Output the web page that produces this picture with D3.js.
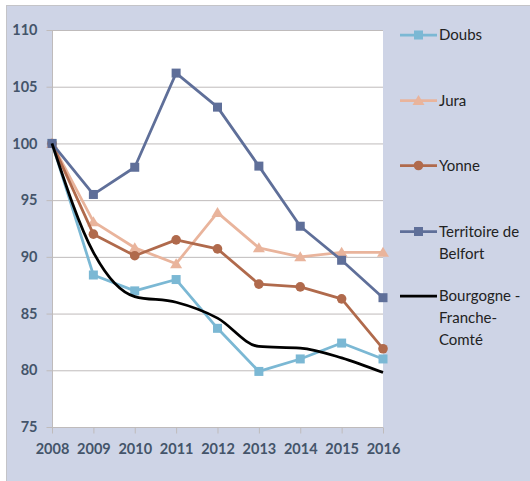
<!DOCTYPE html>
<html><head><meta charset="utf-8">
<script src="https://cdn.jsdelivr.net/npm/d3@7"></script>
<style>html,body{margin:0;padding:0;background:#fff;}svg{display:block;}</style>
</head><body>
<svg id="c" width="530" height="481"></svg>
<script>
const years = [2008, 2009, 2010, 2011, 2012, 2013, 2014, 2015, 2016];
const yTicks = [75, 80, 85, 90, 95, 100, 105, 110];
const doubs = [100, 88.4, 87.0, 88.0, 83.7, 79.9, 81.0, 82.4, 81.0];
const jura = [100, 93.1, 90.8, 89.4, 93.9, 90.8, 90.0, 90.4, 90.4];
const yonne = [100, 92.0, 90.1, 91.5, 90.7, 87.6, 87.35, 86.3, 81.9];
const belfort = [100, 95.5, 97.9, 106.2, 103.2, 98.0, 92.7, 89.7, 86.4];
const bfc = [100, 90.4, 86.5, 86.0, 84.6, 82.1, 81.96, 81.1, 79.8];
const seriesNames = [["Doubs"], ["Jura"], ["Yonne"], ["Territoire de", "Belfort"], ["Bourgogne -", "Franche-", "Comté"]];

const series = [
  {name: seriesNames[0], values: doubs, color: "#7BB8D4", marker: "square"},
  {name: seriesNames[1], values: jura, color: "#E9B49C", marker: "triangle"},
  {name: seriesNames[2], values: yonne, color: "#B06A4C", marker: "circle"},
  {name: seriesNames[3], values: belfort, color: "#5F6F99", marker: "square"},
  {name: seriesNames[4], values: bfc, color: "#000000", marker: null, curve: true}
];

const svg = d3.select("#c");
const font = "Lato, 'Open Sans', sans-serif";
svg.append("rect").attr("x", 0).attr("y", 0).attr("width", 530).attr("height", 481).attr("fill", "#fff");
svg.append("rect").attr("x", 6.5).attr("y", 5.5).attr("width", 530).attr("height", 480)
  .attr("fill", "#CED4E6").attr("stroke", "#C4C4C8").attr("stroke-width", 1);

const L = 52, R = 383, T = 30, B = 427;
const x = d3.scaleLinear().domain([2008, 2016]).range([L, R]);
const y = d3.scaleLinear().domain([75, 110]).range([B, T]);

svg.append("rect").attr("x", L).attr("y", T).attr("width", R - L).attr("height", B - T).attr("fill", "#fff");

// gridlines
svg.append("g").selectAll("line").data(yTicks.filter(d => d !== 75)).join("line")
  .attr("x1", L).attr("x2", R).attr("y1", d => y(d) + 0.5).attr("y2", d => y(d) + 0.5)
  .attr("stroke", "#BFBBBB").attr("stroke-width", 1);

// y axis
const yAxis = svg.append("g").attr("transform", `translate(${L + 0.5},0)`)
  .call(d3.axisLeft(y).tickValues(yTicks).tickSize(6).tickPadding(9));
yAxis.select(".domain").attr("stroke", "#BFBBBB").attr("d", `M0,${T}V${B}`);
yAxis.selectAll(".tick line").attr("stroke", "#BFBBBB");
yAxis.selectAll("text").attr("font-family", font).attr("font-weight", "bold")
  .attr("font-size", "14.5px").attr("fill", "#44546A");

// x axis
const xAxis = svg.append("g").attr("transform", `translate(0,${B + 0.5})`)
  .call(d3.axisBottom(x).tickValues(years).tickFormat(d3.format("d")).tickSize(6).tickPadding(10));
xAxis.select(".domain").attr("stroke", "#BFBBBB").attr("d", `M${L},0H${R}`);
xAxis.selectAll(".tick line").attr("stroke", "#BFBBBB");
xAxis.selectAll("text").attr("font-family", font).attr("font-weight", "bold")
  .attr("font-size", "14.5px").attr("fill", "#44546A");

function drawMarker(g, type, cx, cy, color) {
  if (type === "square") {
    g.append("rect").attr("x", cx - 4.5).attr("y", cy - 4.5).attr("width", 9).attr("height", 9).attr("fill", color);
  } else if (type === "circle") {
    g.append("circle").attr("cx", cx).attr("cy", cy).attr("r", 4.8).attr("fill", color);
  } else if (type === "triangle") {
    g.append("path").attr("d", `M${cx},${cy - 5.5}L${cx + 6},${cy + 4.5}L${cx - 6},${cy + 4.5}Z`).attr("fill", color);
  }
}

series.forEach(s => {
  const g = svg.append("g");
  const line = d3.line().x((d, i) => x(years[i])).y(d => y(d));
  if (s.curve) line.curve(d3.curveMonotoneX);
  g.append("path").attr("d", line(s.values)).attr("fill", "none")
    .attr("stroke", s.color).attr("stroke-width", 2.75).attr("stroke-linejoin", "round");
  if (s.marker) s.values.forEach((v, i) => drawMarker(g, s.marker, x(years[i]), y(v), s.color));
});

// legend
const legendY = [35, 100.5, 165.5, 231.5, 296];
series.forEach((s, k) => {
  const g = svg.append("g");
  const cy = legendY[k];
  g.append("line").attr("x1", 400).attr("x2", 437).attr("y1", cy).attr("y2", cy)
    .attr("stroke", s.color).attr("stroke-width", 2.75);
  if (s.marker) drawMarker(g, s.marker, 418.5, cy, s.color);
  s.name.forEach((t, j) => {
    g.append("text").attr("x", 439).attr("y", cy + j * 22).attr("dy", "0.36em")
      .attr("font-family", font).attr("font-size", "15px").attr("fill", "#222")
      .text(t);
  });
});
</script>
</body></html>
